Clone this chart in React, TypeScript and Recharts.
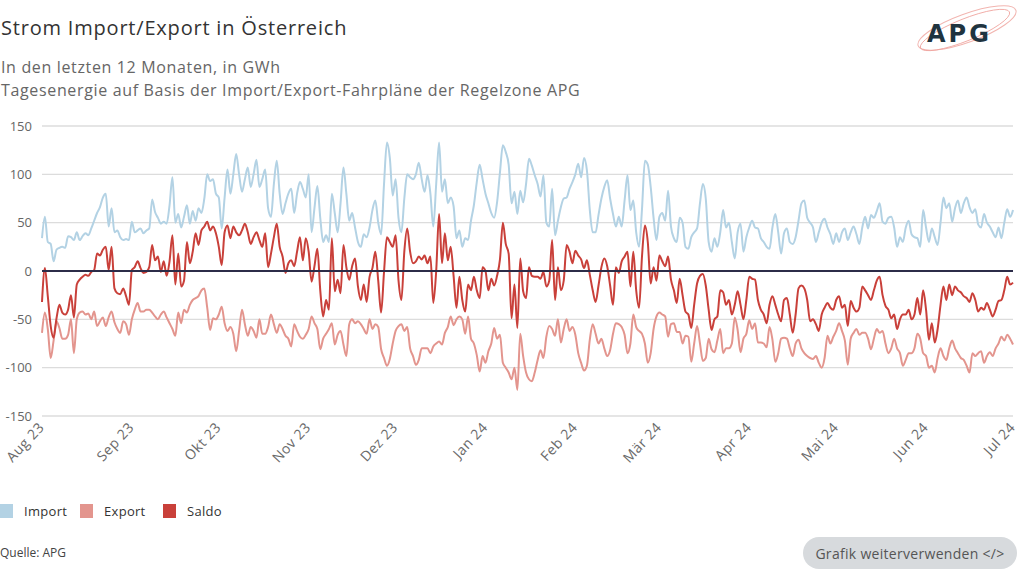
import { LineChart, Line, XAxis, YAxis, CartesianGrid, ReferenceLine } from "recharts";

// daily values in GWh, index 0 = 1 Aug 2023 ... 335 = 1 Jul 2024
const importValues = [
  34, 56, 30, 28, 10, 22, 24, 25, 24, 36, 35, 32, 40, 32, 36, 39, 37, 44, 52, 60, 66, 76, 80, 46, 65, 40, 42, 35, 32, 33, 32, 51, 40, 42, 44, 39, 42, 44, 74, 61, 55, 49, 51,
  49, 68, 97, 50, 59, 45, 56, 68, 49, 62, 52, 65, 60, 75, 100, 93, 95, 80, 76, 44, 76, 105, 80, 100, 121, 100, 82, 95, 107, 87, 100, 115, 87, 95, 105, 65, 56, 90, 114, 80, 59, 70, 80,
  85, 60, 80, 92, 85, 76, 100, 40, 65, 88, 55, 30, 37, 30, 80, 60, 40, 70, 107, 80, 52, 60, 45, 30, 25, 38, 35, 45, 63, 73, 50, 38, 90, 133, 117, 78, 95, 55, 40, 75, 100, 97, 95,
  100, 112, 95, 82, 99, 80, 46, 90, 133, 82, 95, 70, 76, 67, 34, 42, 25, 34, 32, 52, 68,
  92, 110, 95, 80, 70, 60, 55, 71, 102, 130, 123, 110, 70, 82, 59, 83, 71, 90, 116, 109, 99, 90, 77, 99, 50,
  46, 85, 37, 52, 66, 75, 76, 85, 92, 100, 111, 97, 117, 104, 63, 40, 40, 58, 75, 87, 94, 75, 59, 46, 56, 46, 73, 99, 63, 73, 40, 25, 64, 114, 110, 87, 55, 32, 56, 60,
  52, 83, 46, 34, 30, 55, 50, 25, 23, 35, 40, 44, 70, 90, 75, 30, 20, 34, 25, 40, 63, 45, 50, 30, 13, 40, 49, 20, 35, 45, 52, 45, 44, 34, 30, 25, 23, 45, 59, 40, 18, 39,
  44, 30, 28, 35, 52, 70, 73, 55, 50, 45, 30, 40, 50, 54, 45, 38, 28, 39, 30, 40, 44, 32, 40, 46, 38, 28, 45, 56, 44, 58, 55, 62, 70, 51, 49, 55, 56, 45, 25, 35, 30, 45, 52,
  38, 35, 34, 25, 63, 45, 30, 44, 35, 27, 50, 76, 65, 70, 51, 65, 73, 60, 70, 76, 66, 60, 64, 48, 45, 59, 50, 46, 40, 35, 45, 34, 50, 64, 56, 63,
];

const exportValues = [
  -64, -43, -60, -90, -72, -52, -59, -70, -70, -66, -50, -85, -50, -43, -42, -45, -44, -50, -42, -57, -52, -48, -57, -48, -42, -53, -60, -64, -52, -55, -66, -50, -40, -33, -42, -42, -40, -40, -43, -47, -50, -45, -42,
  -48, -54, -60, -67, -43, -54, -40, -43, -35, -30, -28, -26, -20, -18, -38, -61, -49, -50, -45, -37, -54, -62, -58, -65, -83, -62, -40, -55, -67, -58, -62, -69, -50, -65, -65, -58, -45, -55, -64, -55, -60, -67, -70,
  -78, -55, -62, -68, -70, -66, -60, -47, -54, -60, -81, -70, -65, -60, -54, -76, -66, -62, -76, -88, -55, -50, -54, -52, -55, -60, -65, -50, -60, -55, -58, -81, -90, -98, -91, -75, -62, -57, -55, -62, -58, -80, -88,
  -97, -92, -80, -80, -80, -85, -78, -75, -73, -76, -64, -58, -47, -56, -50, -47, -50, -65, -47, -70, -75,
  -87, -104, -88, -95, -83, -75, -59, -70, -66, -95, -100, -105, -112, -100, -123, -65, -88, -105, -112, -114, -105, -92, -82, -90, -68,
  -57, -60, -67, -50, -74, -60, -50, -62, -58, -66, -85, -95, -103, -98, -71, -55, -65, -75, -70, -80, -88, -82, -65, -54, -55, -58, -66, -85, -75, -45, -58, -62, -65, -75, -95, -85, -60, -47, -43, -45,
  -47, -68, -55, -54, -63, -63, -75, -67, -68, -94, -75, -57, -75, -93, -90, -70, -81, -84, -72, -60, -85, -80, -80, -75, -48, -61, -84, -70, -65, -51, -60, -54, -74, -74, -75, -79, -58, -71, -94, -85, -70, -69,
  -70, -80, -88, -75, -71, -80, -85, -88, -90, -91, -88, -95, -100, -90, -67, -75, -68, -62, -54, -62, -72, -97, -70, -64, -60, -66, -64, -64, -70, -81, -70, -60, -64, -62, -75, -85, -80, -70, -80, -85, -98, -92, -85,
  -85, -80, -65, -70, -85, -88, -100, -98, -105, -90, -80, -88, -92, -80, -72, -80, -85, -90, -92, -98, -105, -85, -88, -85, -83, -95, -88, -84, -88, -80, -75, -68, -72, -66, -70, -76,
];

const saldoValues = [
  -32, 3, -26, -57, -69, -49, -35, -43, -45, -40, -25, -48, -14, -9, -6, -4, -5, -1, 1, 18, 16, 22, 25, 1, 25, -18, -23, -24, -18, -26, -35, 1, 4, 10, 3, -2, -1, 4, 27, 11, 15, -1, 10,
  -5, 10, 37, -14, 18, -16, -10, 30, 8, 20, 39, 27, 42, 46, 51, 42, 46, 39, 25, 6, 40, 47, 34, 46, 40, 37, 42, 49, 40, 28, 35, 40, 32, 25, 39, 4, 18, 35, 49, 25, 15, -2, 8,
  11, 5, 20, 35, 11, 34, 20, -11, 5, 23, -20, -47, -30, -40, 34, -21, -9, -23, 27, 4, -9, 5, 13, -16, -30, -14, -32, -6, 3, 20, -10, -43, -1, 35, 30, 25, 37, -10, -30, 20, 44, 20, 8,
  10, 15, 12, 16, 8, 15, -33, 0, 59, 8, 39, 11, 25, -5, -38, -6, -30, -42, -14, -20, -6,
  -20, -28, 4, 0, -20, -8, -15, -5, 12, 50, 28, 18, -49, -14, -59, 13, -21, -28, 4, -5, -6, -6, -8, -1, -16,
  -10, 32, -30, 4, -20, -10, 27, 20, 8, 21, 16, 12, 3, 11, -4, -20, -32, -15, 4, 13, 5, -15, -35, 4, -2, 10, 15, 20, -16, 20, -20, -38, 15, 47, 30, -13, 4, -10, 16, 10,
  5, 15, -9, -20, -33, -8, -25, -42, -45, -59, -35, -13, -5, -3, -15, -40, -61, -50, -47, -20, -22, -35, -30, -45, -35, -21, -35, -50, -30, -6, -8, -9, -30, -40, -45, -54, -35, -26, -35, -45, -52, -30,
  -28, -45, -64, -45, -18, -15, -18, -30, -52, -50, -55, -62, -45, -38, -33, -38, -40, -30, -26, -38, -35, -57, -31, -38, -42, -38, -16, -20, -25, -30, -20, -10, -6, -25, -36, -40, -49, -45, -60, -50, -45, -45, -40,
  -50, -45, -28, -45, -20, -40, -71, -54, -74, -60, -35, -16, -30, -14, -25, -16, -20, -22, -26, -28, -32, -23, -30, -42, -38, -40, -33, -40, -47, -40, -31, -30, -20, -6, -14, -12,
];

// first day of each month as day index
const monthTicks = [0, 31, 61, 92, 122, 153, 184, 213, 244, 274, 305, 335];
const monthLabels = ["Aug 23", "Sep 23", "Okt 23", "Nov 23", "Dez 23", "Jan 24", "Feb 24", "Mär 24", "Apr 24", "Mai 24", "Jun 24", "Jul 24"];
const yTicks = [-150, -100, -50, 0, 50, 100, 150];

const COLORS = { import: "#b3d2e4", export: "#e3958e", saldo: "#c9403a" };
const FONT = "'Open Sans', 'Noto Sans', sans-serif";

const rows = importValues.map((v, i) => ({
  day: i,
  import: v,
  export: exportValues[i],
  saldo: saldoValues[i],
}));

function MonthTick({ x, y, payload }: any) {
  const idx = monthTicks.indexOf(payload.value);
  const ax = x + 3;
  const ay = y + 12;
  return (
    <text
      x={ax}
      y={ay}
      transform={`rotate(-47 ${ax} ${ay})`}
      textAnchor="end"
      fill="#6a6a6a"
      fontSize={14}
      letterSpacing={0.5}
      fontFamily={FONT}
    >
      {monthLabels[idx]}
    </text>
  );
}

function LegendItem({ color, label, left }: { color: string; label: string; left: number }) {
  return (
    <div style={{ position: "absolute", left, top: 502, display: "flex", alignItems: "center", gap: 11 }}>
      <div style={{ width: 13, height: 14, background: color }} />
      <span style={{ fontSize: 13, color: "#333", letterSpacing: 0.3 }}>{label}</span>
    </div>
  );
}

export default function App() {
  return (
    <div style={{ position: "absolute", left: 0, top: 0, width: 1024, height: 576, background: "#fff", fontFamily: FONT, overflow: "hidden" }}>
      <div style={{ position: "absolute", left: 1, top: 14, fontSize: 20, color: "#333", letterSpacing: 0.8 }}>
        Strom Import/Export in Österreich
      </div>
      <div style={{ position: "absolute", left: 1, top: 56, fontSize: 16, color: "#666", lineHeight: "23px", letterSpacing: 0.65 }}>
        In den letzten 12 Monaten, in GWh
        <br />
        Tagesenergie auf Basis der Import/Export-Fahrpläne der Regelzone APG
      </div>

      <svg style={{ position: "absolute", left: 905, top: 0 }} width={115} height={56}>
        <ellipse cx={62} cy={28} rx={52} ry={14} transform="rotate(-20 62 28)" fill="none" stroke="#f2b5b0" strokeWidth={1} />
        <ellipse cx={60} cy={30} rx={48} ry={11} transform="rotate(-22 60 30)" fill="none" stroke="#efa39d" strokeWidth={0.8} />
        <text x={22} y={42} fontSize={24} fontWeight={700} fill="#1f3440" fontFamily="'DejaVu Sans', sans-serif" letterSpacing={3}>
          APG
        </text>
      </svg>

      <div style={{ position: "absolute", left: 0, top: 0 }}>
        <LineChart width={1024} height={480} data={rows} margin={{ top: 126, right: 11, bottom: 0, left: 0 }}>
          <CartesianGrid vertical={false} stroke="#dcdcdc" strokeWidth={1.3} />
          <XAxis
            dataKey="day"
            type="number"
            domain={[0, 335]}
            ticks={monthTicks}
            interval={0}
            axisLine={false}
            tickLine={false}
            tickSize={0}
            tickMargin={0}
            height={64}
            tick={<MonthTick />}
          />
          <YAxis
            domain={[-150, 150]}
            ticks={yTicks}
            width={42}
            axisLine={false}
            tickLine={false}
            tickSize={0}
            tickMargin={10}
            tick={{ fill: "#666", fontSize: 13, fontFamily: FONT }}
          />
          <Line type="monotone" dataKey="import" stroke={COLORS.import} strokeWidth={2} dot={false} isAnimationActive={false} />
          <Line type="monotone" dataKey="export" stroke={COLORS.export} strokeWidth={2} dot={false} isAnimationActive={false} />
          <Line type="monotone" dataKey="saldo" stroke={COLORS.saldo} strokeWidth={2} dot={false} isAnimationActive={false} />
          <ReferenceLine y={0} stroke="#2c2c48" strokeWidth={2} />
        </LineChart>
      </div>

      <LegendItem color={COLORS.import} label="Import" left={0} />
      <LegendItem color={COLORS.export} label="Export" left={80} />
      <LegendItem color={COLORS.saldo} label="Saldo" left={163} />

      <div style={{ position: "absolute", left: 0, top: 544, fontSize: 12, color: "#444" }}>Quelle: APG</div>
      <div
        style={{
          position: "absolute",
          left: 803,
          top: 537,
          width: 214,
          height: 32,
          borderRadius: 16,
          background: "#d7dadd",
          color: "#555",
          fontSize: 14,
          letterSpacing: 0.3,
          display: "flex",
          alignItems: "center",
          justifyContent: "center",
        }}
      >
        Grafik weiterverwenden &lt;/&gt;
      </div>
    </div>
  );
}
